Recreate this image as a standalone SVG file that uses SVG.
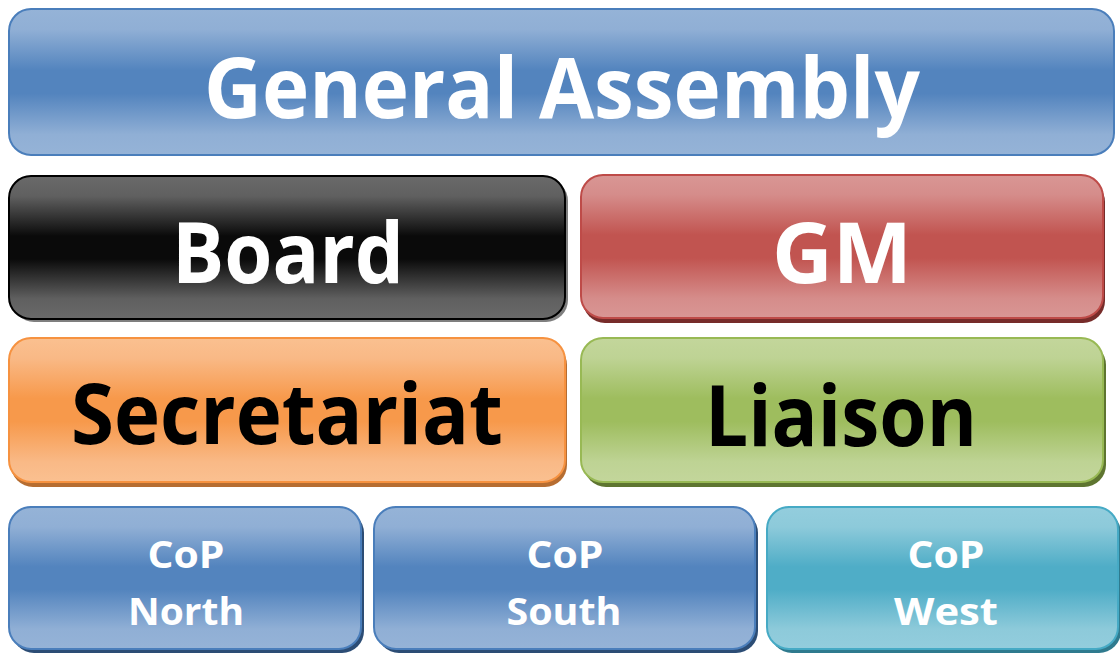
<svg xmlns="http://www.w3.org/2000/svg" width="1120" height="653" viewBox="0 0 1120 653">
<defs>
<linearGradient id="gBlue" x1="0" y1="0" x2="0" y2="1">
<stop offset="0" stop-color="#95b3d7"/><stop offset="0.14" stop-color="#90afd5"/><stop offset="0.42" stop-color="#5384be"/><stop offset="0.58" stop-color="#5384be"/><stop offset="0.86" stop-color="#90afd5"/><stop offset="1" stop-color="#95b3d7"/>
</linearGradient>
<linearGradient id="gBlack" x1="0" y1="0" x2="0" y2="1">
<stop offset="0" stop-color="#6a6a6a"/><stop offset="0.14" stop-color="#606060"/><stop offset="0.42" stop-color="#0a0a0a"/><stop offset="0.58" stop-color="#0a0a0a"/><stop offset="0.86" stop-color="#606060"/><stop offset="1" stop-color="#6a6a6a"/>
</linearGradient>
<linearGradient id="gRed" x1="0" y1="0" x2="0" y2="1">
<stop offset="0" stop-color="#d99694"/><stop offset="0.14" stop-color="#d58c8a"/><stop offset="0.42" stop-color="#c15450"/><stop offset="0.58" stop-color="#c15450"/><stop offset="0.86" stop-color="#d58c8a"/><stop offset="1" stop-color="#d99694"/>
</linearGradient>
<linearGradient id="gOrange" x1="0" y1="0" x2="0" y2="1">
<stop offset="0" stop-color="#fac090"/><stop offset="0.14" stop-color="#f9b986"/><stop offset="0.42" stop-color="#f7994b"/><stop offset="0.58" stop-color="#f7994b"/><stop offset="0.86" stop-color="#f9b986"/><stop offset="1" stop-color="#fac090"/>
</linearGradient>
<linearGradient id="gGreen" x1="0" y1="0" x2="0" y2="1">
<stop offset="0" stop-color="#c3d69b"/><stop offset="0.14" stop-color="#bed394"/><stop offset="0.42" stop-color="#9ebd5e"/><stop offset="0.58" stop-color="#9ebd5e"/><stop offset="0.86" stop-color="#bed394"/><stop offset="1" stop-color="#c3d69b"/>
</linearGradient>
<linearGradient id="gAqua" x1="0" y1="0" x2="0" y2="1">
<stop offset="0" stop-color="#93cddd"/><stop offset="0.14" stop-color="#8dcada"/><stop offset="0.42" stop-color="#4fadc7"/><stop offset="0.58" stop-color="#4fadc7"/><stop offset="0.86" stop-color="#8dcada"/><stop offset="1" stop-color="#93cddd"/>
</linearGradient>
<style>
.box{stroke-width:2}
.big{font-family:"Open Sans","Liberation Sans",sans-serif;font-weight:bold;font-size:84px;text-anchor:middle}
.small{font-family:"Open Sans","Liberation Sans",sans-serif;font-weight:bold;font-size:38px;text-anchor:middle;fill:#ffffff}
.w{fill:#ffffff}
.k{fill:#000000}
</style>
</defs>
<g id="general-assembly">
<rect class="box" x="9" y="9" width="1105" height="146" rx="22" fill="url(#gBlue)" stroke="#4a7ebb"/>
<text class="big w" x="562" y="118" textLength="716" lengthAdjust="spacingAndGlyphs">General Assembly</text>
</g>
<g id="board">
<rect x="12" y="179" width="556" height="143" rx="22" fill="#7f7f7f"/>
<rect class="box" x="9" y="176" width="556" height="143" rx="22" fill="url(#gBlack)" stroke="#000000" stroke-width="2.5"/>
<text class="big w" x="288" y="283" textLength="232" lengthAdjust="spacingAndGlyphs">Board</text>
</g>
<g id="gm">
<rect x="583" y="180" width="522" height="143" rx="22" fill="#772c2a"/>
<rect class="box" x="581" y="175" width="522" height="143" rx="22" fill="url(#gRed)" stroke="#be4b48"/>
<text class="big w" x="842" y="283" textLength="140" lengthAdjust="spacingAndGlyphs">GM</text>
</g>
<g id="secretariat">
<rect x="11" y="343" width="556" height="144" rx="22" fill="#b66d31"/>
<rect class="box" x="9" y="338" width="556" height="144" rx="22" fill="url(#gOrange)" stroke="#f69240"/>
<text class="big k" x="287" y="444" textLength="432" lengthAdjust="spacingAndGlyphs">Secretariat</text>
</g>
<g id="liaison">
<rect x="584" y="343" width="522" height="144" rx="22" fill="#5e7530"/>
<rect class="box" x="581" y="338" width="522" height="144" rx="22" fill="url(#gGreen)" stroke="#98b954"/>
<text class="big k" x="841" y="446" textLength="272" lengthAdjust="spacingAndGlyphs">Liaison</text>
</g>
<g id="cop-north">
<rect x="12" y="511" width="352" height="142" rx="22" fill="#2c4d75"/>
<rect class="box" x="9" y="507" width="352" height="142" rx="22" fill="url(#gBlue)" stroke="#4a7ebb"/>
<text class="small" x="186" y="568" textLength="77" lengthAdjust="spacingAndGlyphs">CoP</text>
<text class="small" x="186" y="625" textLength="116" lengthAdjust="spacingAndGlyphs">North</text>
</g>
<g id="cop-south">
<rect x="377" y="511" width="381" height="142" rx="22" fill="#2c4d75"/>
<rect class="box" x="374" y="507" width="381" height="142" rx="22" fill="url(#gBlue)" stroke="#4a7ebb"/>
<text class="small" x="565" y="568" textLength="77" lengthAdjust="spacingAndGlyphs">CoP</text>
<text class="small" x="564" y="625" textLength="115" lengthAdjust="spacingAndGlyphs">South</text>
</g>
<g id="cop-west">
<rect x="770" y="511" width="351" height="142" rx="22" fill="#2f7a8e"/>
<rect class="box" x="767" y="507" width="351" height="142" rx="22" fill="url(#gAqua)" stroke="#46aac5"/>
<text class="small" x="946" y="568" textLength="77" lengthAdjust="spacingAndGlyphs">CoP</text>
<text class="small" x="946" y="625" textLength="104" lengthAdjust="spacingAndGlyphs">West</text>
</g>
<g id="connectors"></g>
</svg>
